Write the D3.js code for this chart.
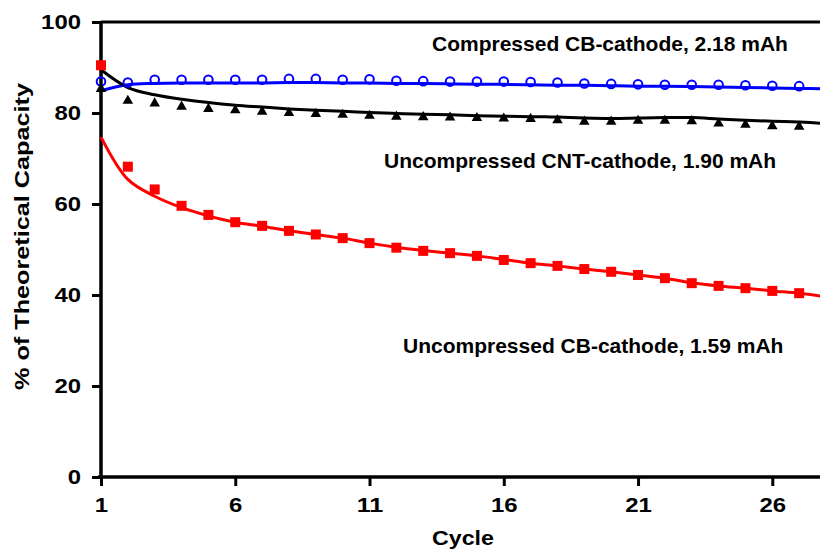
<!DOCTYPE html>
<html>
<head>
<meta charset="utf-8">
<script src="https://cdn.jsdelivr.net/npm/d3@7"></script>
<style>
  body { margin: 0; background: #fff; }
  svg { display: block; }
  text { font-family: "Liberation Sans", Arial, sans-serif; font-weight: bold; fill: #000; }
</style>
</head>
<body>
<svg id="chart" width="820" height="550"></svg>
<script>
// Measured cycles and capacity (% of theoretical)
const cycles = [1,2,3,4,5,6,7,8,9,10,11,12,13,14,15,16,17,18,19,20,21,22,23,24,25,26,27];
const compressedCB = [86.9,86.7,87.3,87.3,87.3,87.3,87.3,87.5,87.5,87.3,87.4,87.1,87.0,86.9,86.9,86.9,86.8,86.7,86.5,86.4,86.3,86.2,86.2,86.2,86.1,86.0,85.9];
const uncompressedCNT = [85.3,82.7,82.1,81.4,80.9,80.6,80.3,80.0,79.8,79.6,79.4,79.2,79.1,79.0,78.9,78.8,78.7,78.4,78.1,78.1,78.3,78.3,78.2,77.7,77.4,77.1,77.0];
const uncompressedCB = [90.5,68.2,63.2,59.6,57.6,56.0,55.2,54.1,53.3,52.5,51.4,50.4,49.7,49.2,48.6,47.7,47.0,46.4,45.7,45.1,44.4,43.7,42.6,42.0,41.5,40.9,40.4];

// Fitted trend curves, evaluated per cycle
const fitCycles = [1,2,3,4,5,6,7,8,9,10,11,12,13,14,15,16,17,18,19,20,21,22,23,24,25,26,27,28];
const compressedCBFit = [84.9,86.2,86.5,86.6,86.6,86.6,86.6,86.7,86.7,86.6,86.6,86.5,86.5,86.4,86.3,86.3,86.2,86.1,86.1,86.0,85.9,85.9,85.8,85.7,85.6,85.5,85.4,85.3];
const uncompressedCNTFit = [89.5,85.6,84.0,83.0,82.3,81.7,81.3,80.9,80.6,80.4,80.1,79.9,79.7,79.6,79.4,79.3,79.2,79.1,78.9,78.8,78.9,79.0,79.0,78.7,78.4,78.2,78.0,77.7];
const uncompressedCBFit = [74.7,65.4,61.7,59.2,57.4,56.0,55.1,54.1,53.3,52.5,51.4,50.5,49.8,49.2,48.6,47.8,47.0,46.4,45.7,45.1,44.4,43.7,42.7,42.0,41.5,40.9,40.4,39.6];

const xTicks = [1,6,11,16,21,26];
const yTicks = [0,20,40,60,80,100];

const seriesLabels = [
  "Compressed CB-cathode, 2.18 mAh",
  "Uncompressed CNT-cathode, 1.90 mAh",
  "Uncompressed CB-cathode, 1.59 mAh"
];

const svg = d3.select("#chart");
const plotL = 101, plotR = 826, plotT = 22, plotB = 477;

const x = d3.scaleLinear().domain([1, 28]).range([plotL, plotR]);
const y = d3.scaleLinear().domain([0, 100]).range([plotB, plotT]);

// Plot frame (top edge)
svg.append("line")
  .attr("x1", plotL).attr("x2", plotR)
  .attr("y1", y(100)).attr("y2", y(100))
  .attr("stroke", "#000").attr("stroke-width", 3);

// Axes
const digitW = 13.3;
const yAxis = svg.append("g")
  .attr("transform", `translate(${plotL},0)`)
  .call(d3.axisLeft(y).tickValues(yTicks).tickSize(9).tickPadding(11));
const xAxis = svg.append("g")
  .attr("transform", `translate(0,${plotB})`)
  .call(d3.axisBottom(x).tickValues(xTicks).tickSize(9).tickPadding(11));

[yAxis, xAxis].forEach(g => {
  g.select(".domain").attr("stroke", "#000").attr("stroke-width", 3.5);
  g.selectAll(".tick line").attr("stroke", "#000").attr("stroke-width", 3);
  g.selectAll(".tick text")
    .attr("font-size", 21)
    .attr("fill", "#000")
    .attr("textLength", d => String(d).length * digitW)
    .attr("lengthAdjust", "spacingAndGlyphs");
});
yAxis.select(".domain").attr("d", `M0,${plotB + 2}V${plotT - 1}`);
xAxis.select(".domain").attr("d", `M${plotL - 3},0H${plotR}`);
xAxis.selectAll(".tick text").attr("dy", "0.71em");

// Axis titles
svg.append("text")
  .attr("x", 463).attr("y", 545)
  .attr("text-anchor", "middle")
  .attr("font-size", 21)
  .attr("textLength", 62).attr("lengthAdjust", "spacingAndGlyphs")
  .text("Cycle");
svg.append("text")
  .attr("transform", `translate(29,${(83 + 390) / 2}) rotate(-90)`)
  .attr("text-anchor", "middle")
  .attr("font-size", 21)
  .attr("textLength", 307).attr("lengthAdjust", "spacingAndGlyphs")
  .text("% of Theoretical Capacity");

// Trend curves
const curve = d3.line()
  .x(d => x(d[0])).y(d => y(d[1]))
  .curve(d3.curveCatmullRom.alpha(0.5));
const fits = [
  { vals: compressedCBFit, color: "#0000ff" },
  { vals: uncompressedCNTFit, color: "#000000" },
  { vals: uncompressedCBFit, color: "#ff0000" }
];
fits.forEach(f => {
  svg.append("path")
    .datum(fitCycles.map((c, i) => [c, f.vals[i]]))
    .attr("d", curve)
    .attr("fill", "none")
    .attr("stroke", f.color)
    .attr("stroke-width", 3);
});

// Markers
svg.append("g").selectAll("circle")
  .data(cycles.map((c, i) => [c, compressedCB[i]]))
  .join("circle")
  .attr("cx", d => x(d[0])).attr("cy", d => y(d[1]))
  .attr("r", 4.3)
  .attr("fill", "none").attr("stroke", "#0000ff").attr("stroke-width", 2);

const tri = d3.symbol().type(d3.symbolTriangle).size(48);
svg.append("g").selectAll("path")
  .data(cycles.map((c, i) => [c, uncompressedCNT[i]]))
  .join("path")
  .attr("transform", d => `translate(${x(d[0])},${y(d[1])})`)
  .attr("d", tri)
  .attr("fill", "#000");

const sq = 10;
svg.append("g").selectAll("rect")
  .data(cycles.map((c, i) => [c, uncompressedCB[i]]))
  .join("rect")
  .attr("x", d => x(d[0]) - sq / 2).attr("y", d => y(d[1]) - sq / 2)
  .attr("width", sq).attr("height", sq)
  .attr("fill", "#ff0000");

// Series annotations
const notes = [
  { text: seriesLabels[0], x: 432, y: 51 },
  { text: seriesLabels[1], x: 384, y: 168 },
  { text: seriesLabels[2], x: 403, y: 353 }
];
svg.append("g").selectAll("text")
  .data(notes)
  .join("text")
  .attr("x", d => d.x).attr("y", d => d.y)
  .attr("font-size", 21)
  .text(d => d.text);
</script>
</body>
</html>
